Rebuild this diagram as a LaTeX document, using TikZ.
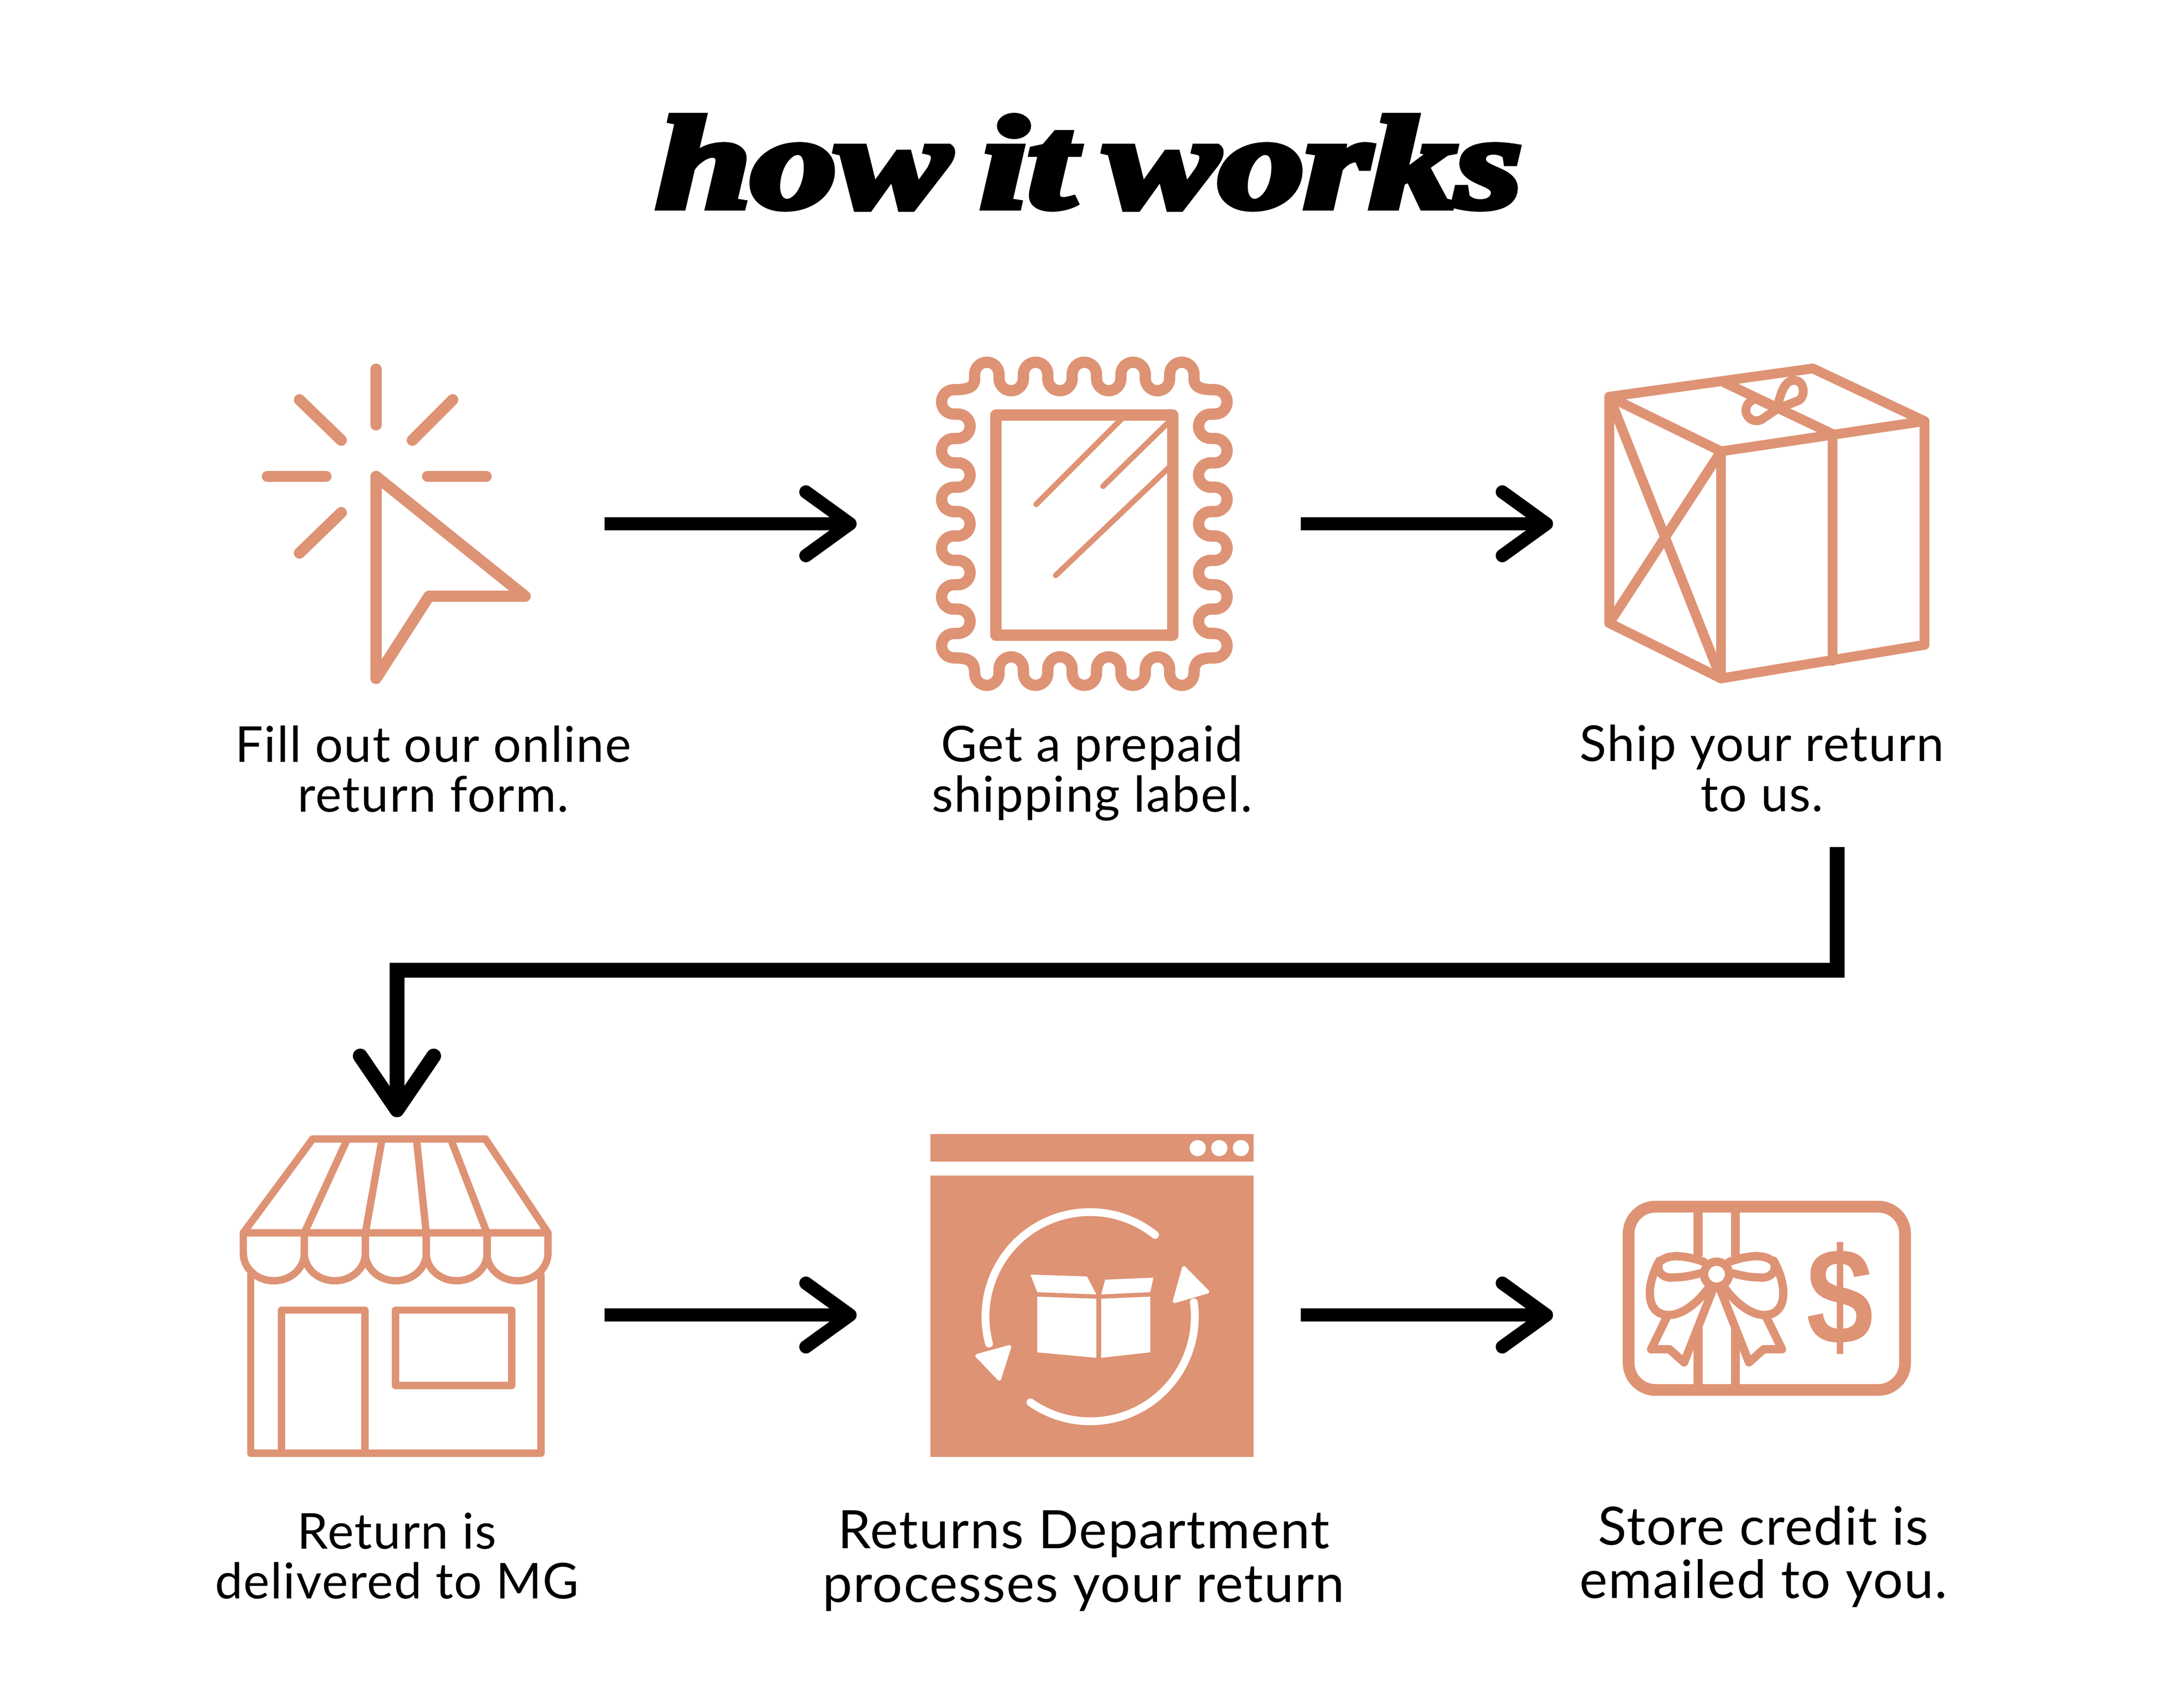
\documentclass[tikz,border=0pt]{standalone}
\usepackage{fontspec}
\setmainfont{Lato}[LetterSpace=2]
\newfontfamily\titlefont{Liberation Serif}[WordSpace=0.7, BoldItalicFeatures={FakeBold=5}]
\newfontfamily\signfont{Liberation Sans}
\usetikzlibrary{arrows.meta, positioning, calc}
\definecolor{terra}{HTML}{DE9375}
\tikzset{
	iconline/.style={draw=terra, line width=2.3pt, line cap=round, line join=round},
	thinline/.style={draw=terra, line width=1.15pt, line cap=round},
	flowarrow/.style={line width=2.7pt, -{Straight Barb[length=9pt, width=13pt, round]}},
	steplabel/.style={align=center, font=\fontsize{10.1pt}{10.2pt}\selectfont, inner sep=0pt},
	biglabel/.style={align=center, font=\fontsize{10.8pt}{10.9pt}\selectfont, inner sep=0pt}
}
\begin{document}
\begin{tikzpicture}[x=0.01cm, y=-0.01cm]
	\useasboundingbox (0,0) rectangle (1568,1211.5);

	\node[inner sep=0pt, xscale=1.3, transform shape] (title) at (782,116.5) {\fontsize{26.8pt}{26.8pt}\titlefont\bfseries\itshape how it works};

	% cursor
	\draw[iconline] (270,342) -- (377,428) -- (308,428) -- (270,487) -- cycle;
	\draw[iconline] (270,265) -- (270,305);
	\draw[iconline] (215,287) -- (245,316);
	\draw[iconline] (325,287) -- (296,316);
	\draw[iconline] (192,342) -- (234,342);
	\draw[iconline] (307,342) -- (349,342);
	\draw[iconline] (245,368) -- (215,397);

	% stamp
	\draw[iconline] (699.75,271.75)
		\foreach \i in {1,...,4} { -- ++(0,-3) arc (180:360:8.75) -- ++(0,3) arc (180:0:8.75) }
		-- ++(0,-3) arc (180:360:8.75) -- ++(0,3)
		.. controls (857.25,278) and (862,279.75) .. (872.25,279.75)
		\foreach \i in {1,...,5} { arc (270:450:8.75) -- ++(-3,0) arc (270:90:8.75) -- ++(3,0) }
		arc (270:450:8.75)
		.. controls (862,472.25) and (857.25,474) .. (857.25,483.25)
		\foreach \i in {1,...,4} { arc (0:180:8.75) -- ++(0,-3) arc (0:-180:8.75) -- ++(0,3) }
		arc (0:180:8.75)
		.. controls (699.75,474) and (695,472.25) .. (684.75,472.25)
		\foreach \i in {1,...,5} { arc (90:270:8.75) -- ++(3,0) arc (90:-90:8.75) -- ++(-3,0) }
		arc (90:270:8.75)
		.. controls (695,279.75) and (699.75,278) .. cycle;
	\draw[iconline] (715,298) rectangle (842,456);
	\draw[thinline] (744,362) -- (806,300);
	\draw[thinline] (792,349) -- (838,304);
	\draw[thinline] (758,413) -- (842,333);

	% parcel
	\draw[iconline, line width=2pt] (1155.4,284.8) -- (1301.5,264.5) -- (1381.7,302.3) -- (1235.6,324) -- cycle;
	\draw[iconline, line width=2pt] (1155.4,284.8) -- (1155.4,447.3) -- (1235.6,487) -- (1381.7,462.9) -- (1381.7,302.3);
	\draw[iconline, line width=2pt] (1235.6,324) -- (1235.6,487);
	\draw[iconline, line width=2pt] (1155.4,284.8) -- (1235.6,487);
	\draw[iconline, line width=2pt] (1235.6,324) -- (1155.4,447.3);
	\draw[iconline, line width=2pt] (1238,274.6) -- (1315.7,311.6) -- (1315.7,474.4);
	\draw[iconline, line width=1.8pt] (1275.8,293.6) .. controls (1279,278) and (1283,273) .. (1288,273)
		.. controls (1296,273) and (1297,286) .. (1290,288) -- cycle;
	\draw[iconline, line width=1.8pt] (1275.8,293.6) -- (1265,301) .. controls (1258,305) and (1250,297) .. (1255,290)
		.. controls (1258,286) and (1261,286) .. (1264,288) -- cycle;

	% shop
	\draw[iconline, line width=1.5pt] (224.5,817.6) -- (348.5,817.6) -- (393.4,885) -- (174.7,885) -- cycle;
	\foreach \a/\b in {249.4/218.5, 274.3/262.3, 299/306, 323.6/349.6}
		\draw[iconline, line width=1.5pt] (\a,817.6) -- (\b,885);
	\foreach \a in {174.7, 218.5, 262.3, 306, 349.6}
		\draw[iconline, line width=1.5pt] (\a,885) -- (\a,899.6) arc (180:0:21.9 and 19.8) -- ++(0,-14.6);
	\draw[iconline, line width=1.5pt] (180,915) -- (180,1043.3) -- (388.3,1043.3) -- (388.3,915);
	\draw[iconline, line width=1.5pt] (202.2,1043.3) -- (202.2,940.5) -- (262.1,940.5) -- (262.1,1043.3);
	\draw[iconline, line width=1.5pt] (284,940.5) rectangle (367.5,994.6);

	% returns window
	\fill[terra] (668,814) rectangle (900,834);
	\fill[terra] (668,844) rectangle (900,1046);
	\foreach \a in {859.9, 875.4, 890.9}
		\fill[white] (\a,824.2) circle (5.8);
	\draw[white, line width=1.6pt, line cap=round] (829.3,886.5) arc (-51.4:-195:75);
	\draw[white, line width=1.6pt, line cap=round] (739.8,1006.7) arc (125:-8:75);
	\filldraw[white, line width=0.8pt, line join=round] (701.7,973.3) -- (724.6,967) -- (717.4,989.7) -- cycle;
	\filldraw[white, line width=0.8pt, line join=round] (850,910.3) -- (866.7,927.2) -- (843.4,934) -- cycle;
	\fill[white] (739.8,915) -- (780.4,916.3) -- (787.1,929.2) -- (744.7,927.6) -- cycle;
	\fill[white] (793.5,918.6) -- (828.1,917.2) -- (825.8,927.6) -- (790.6,929.2) -- cycle;
	\fill[white] (744.7,930.8) -- (787.1,932.3) -- (787.1,974.7) -- (744.7,970.8) -- cycle;
	\fill[white] (790.6,932.3) -- (825.8,930.8) -- (825.8,970.8) -- (790.6,974.7) -- cycle;

	% gift card
	\draw[iconline, line width=2.4pt, rounded corners=5.5pt] (1169.3,866.2) rectangle (1367.7,997.8);
	\draw[iconline, line cap=butt, line width=1.85pt] (1219.1,866) -- (1219.1,902) (1245.9,866) -- (1245.9,902);
	\draw[iconline, line cap=butt, line width=1.85pt] (1219.1,953) -- (1219.1,997) (1245.9,953) -- (1245.9,997);
	\draw[iconline, line width=1.7pt] (1232.4,914.7) circle (9);
	\foreach \s in {-1,1} {
		\draw[iconline, line width=1.7pt] (1232.4+\s*9.1,905.8) .. controls (1232.4+\s*20,902) and (1232.4+\s*34,899) .. (1232.4+\s*41,906)
			.. controls (1232.4+\s*44,913) and (1232.4+\s*38,918) .. (1232.4+\s*31,917)
			.. controls (1232.4+\s*22,917) and (1232.4+\s*16,915) .. (1232.4+\s*10.7,913.9);
		\draw[iconline, line width=1.7pt] (1232.4+\s*41,905) .. controls (1232.4+\s*52,925) and (1232.4+\s*50,944) .. (1232.4+\s*34.3,944)
			.. controls (1232.4+\s*24,944) and (1232.4+\s*12,934) .. (1232.4+\s*4.4,922.5);
		\draw[iconline, line width=1.7pt] (1232.4+\s*35,944) -- (1232.4+\s*47,968.6) -- (1232.4+\s*33.8,968.6) -- (1232.4+\s*23.3,978) -- (1232.4+\s*2,924);
	}
	\node[inner sep=0pt, text=terra, xscale=0.88, transform shape] (dollar) at (1321,932) {\fontsize{28pt}{28pt}\signfont\bfseries\$};

	% connectors
	\coordinate (cursorE) at (434,376);
	\coordinate (stampW) at (615,376);
	\coordinate (stampE) at (934,376);
	\coordinate (parcelW) at (1115,376);
	\coordinate (parcelS) at (1319,608);
	\coordinate (bendE) at (1319,696.5);
	\coordinate (bendW) at (285,696.5);
	\coordinate (shopN) at (285,802);
	\coordinate (shopE) at (434,944);
	\coordinate (windowW) at (615,944);
	\coordinate (windowE) at (934,944);
	\coordinate (cardW) at (1115,944);
	\draw[flowarrow] (cursorE) -- (stampW);
	\draw[flowarrow] (stampE) -- (parcelW);
	\draw[flowarrow, line width=3pt, -{Straight Barb[length=11pt, width=15pt, round]}] (parcelS) -- (bendE) -- (bendW) -- (shopN);
	\draw[flowarrow] (shopE) -- (windowW);
	\draw[flowarrow] (windowE) -- (cardW);

	% labels
	\node[steplabel] (lblform) at (311,552) {Fill out our online\\return form.};
	\node[steplabel] (lbllabel) at (784,555) {Get a prepaid\\shipping label.};
	\node[steplabel] (lblship) at (1265,551.5) {Ship your return\\to us.};
	\node[steplabel] (lblshop) at (285,1117) {Return is\\delivered to MG};
	\node[biglabel] (lblreturns) at (778,1120.5) {Returns Department\\processes your return};
	\node[biglabel] (lblcredit) at (1266,1117.5) {Store credit is\\emailed to you.};
\end{tikzpicture}
\end{document}
